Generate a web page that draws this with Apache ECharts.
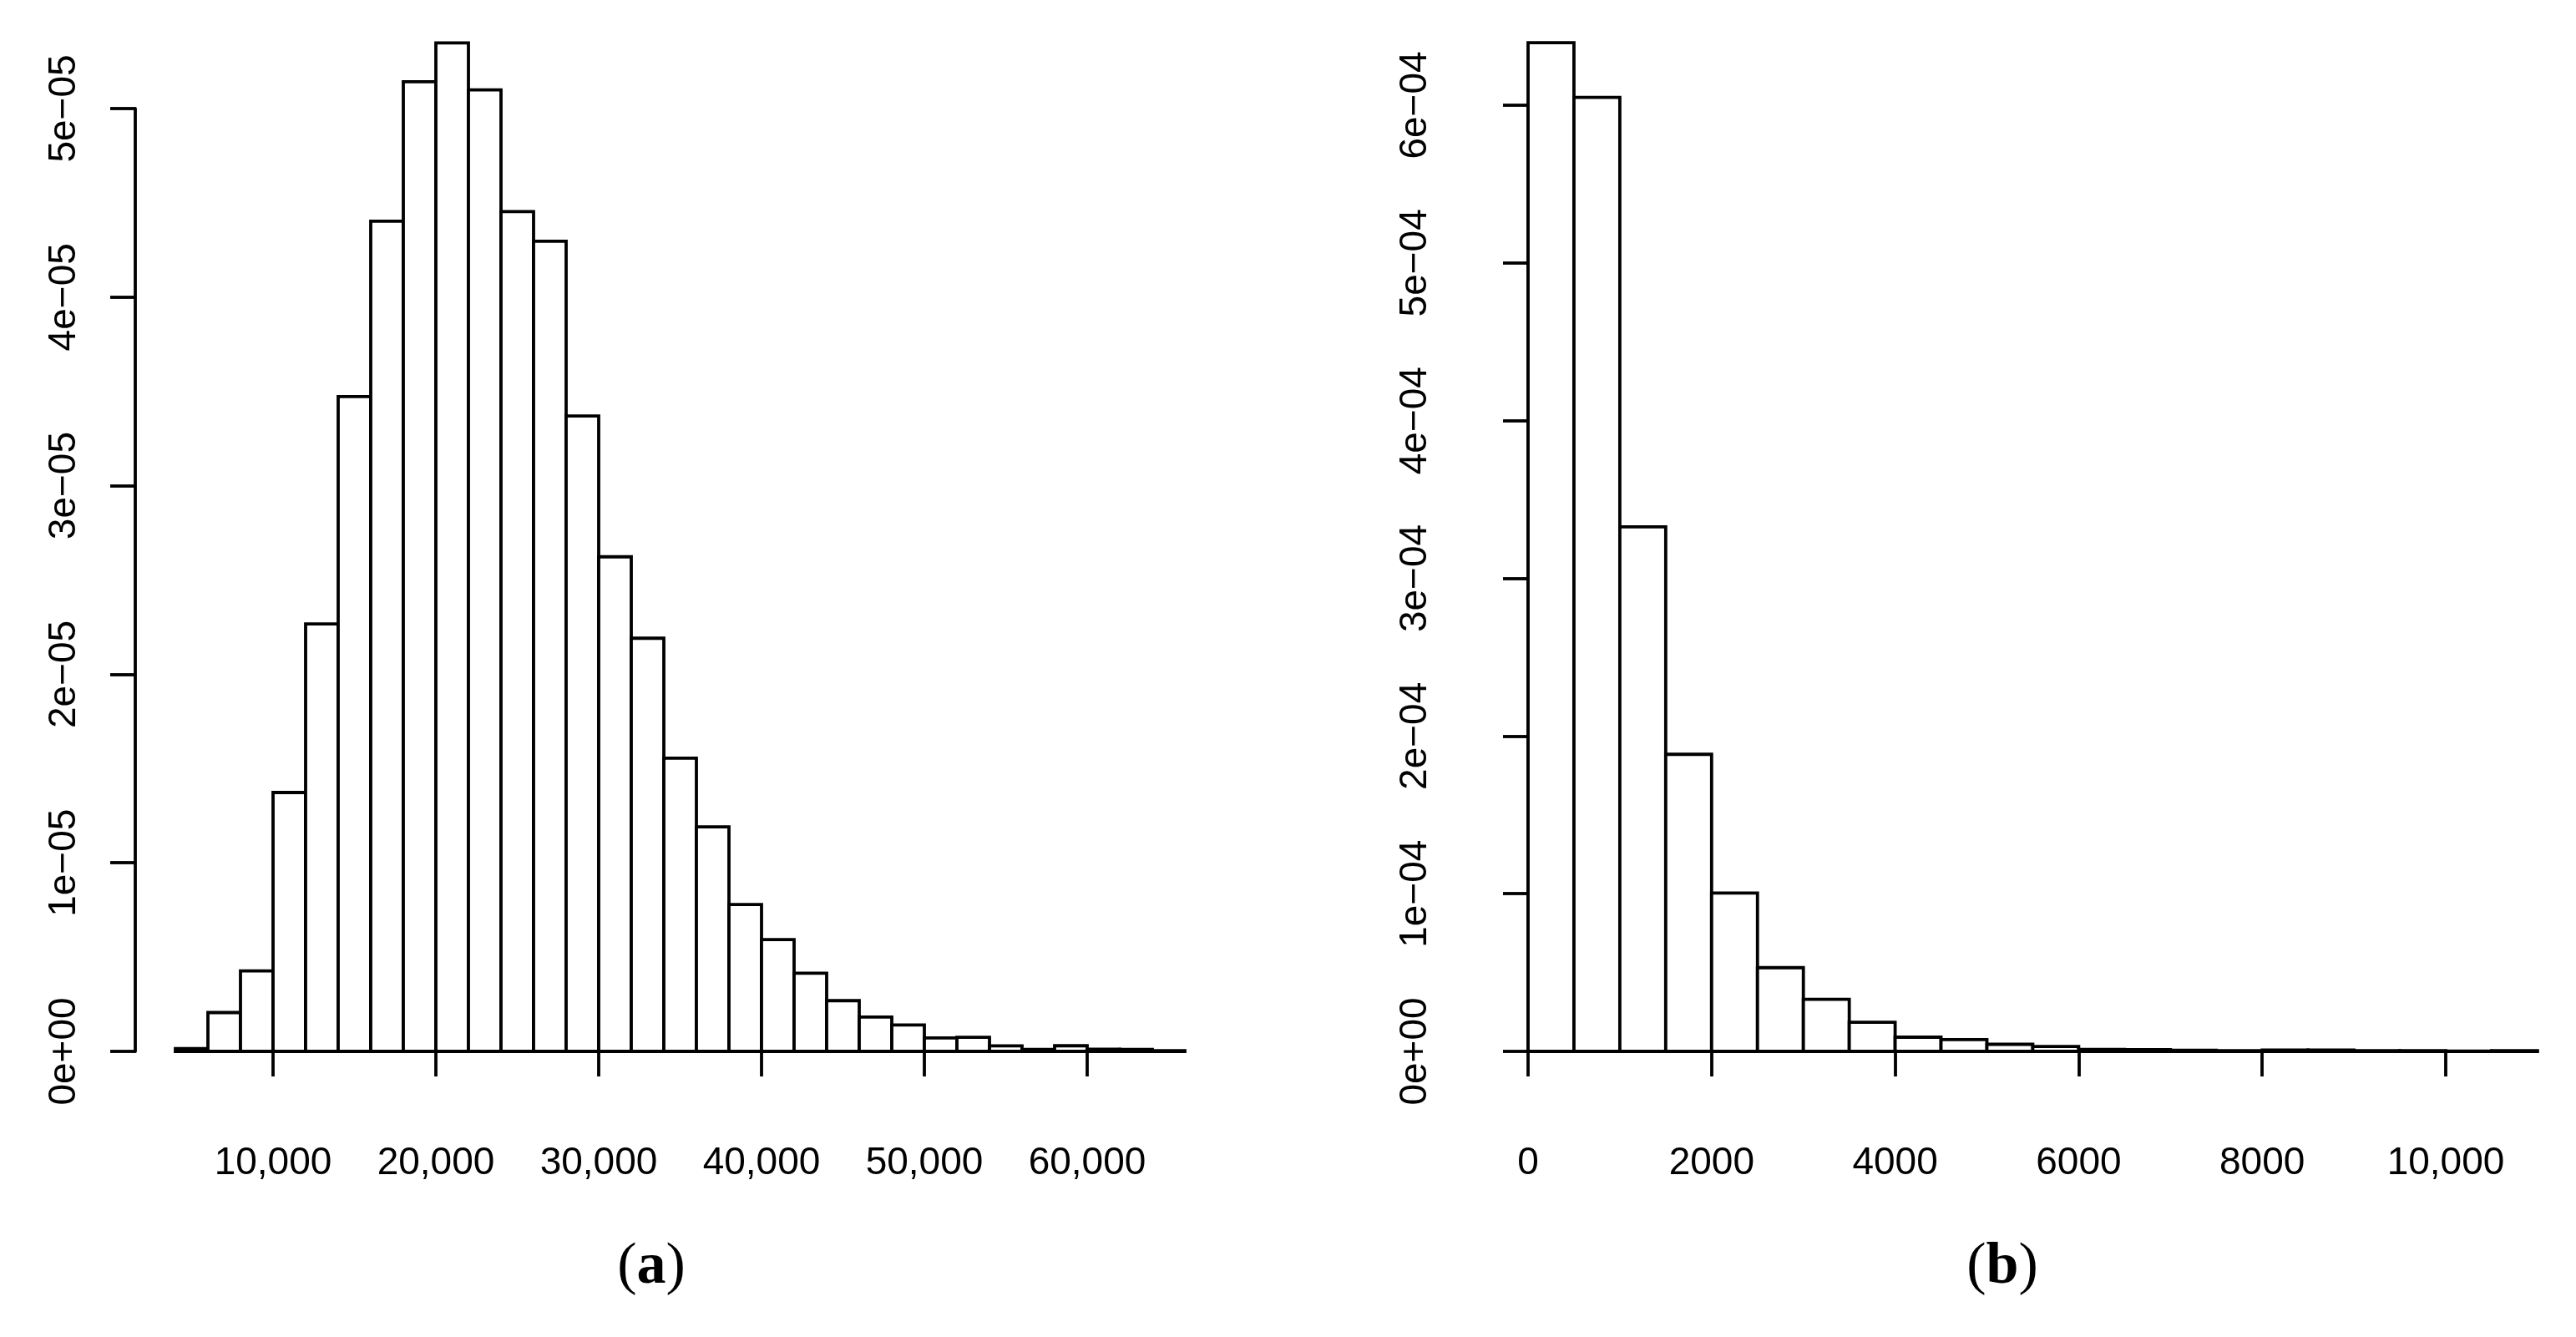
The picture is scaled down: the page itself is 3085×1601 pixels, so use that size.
<!DOCTYPE html>
<html>
<head>
<meta charset="utf-8">
<title>Histograms</title>
<script src="https://cdn.jsdelivr.net/npm/echarts@6/dist/echarts.min.js"></script>
<style>
  html, body { margin: 0; padding: 0; background: #fff; }
  #chart { width: 3085px; height: 1601px; }
</style>
</head>
<body>
<div id="chart"></div>
<script>
// panel (a): bin edges and density
const aEdges = [4000, 6000, 8000, 10000, 12000, 14000, 16000, 18000, 20000, 22000, 24000,
  26000, 28000, 30000, 32000, 34000, 36000, 38000, 40000, 42000, 44000, 46000, 48000,
  50000, 52000, 54000, 56000, 58000, 60000, 62000, 64000, 66000];
const aDensity = [0.15e-6, 2.06e-6, 4.27e-6, 13.73e-6, 22.67e-6, 34.73e-6, 44.03e-6, 51.42e-6,
  53.48e-6, 50.99e-6, 44.54e-6, 42.96e-6, 33.70e-6, 26.23e-6, 21.91e-6, 15.55e-6, 11.91e-6,
  7.79e-6, 5.93e-6, 4.15e-6, 2.69e-6, 1.82e-6, 1.40e-6, 0.71e-6, 0.75e-6, 0.29e-6, 0.10e-6,
  0.30e-6, 0.12e-6, 0.10e-6, 0.04e-6];
const aXTicks = [10000, 20000, 30000, 40000, 50000, 60000];
const aYTicks = [0, 1e-5, 2e-5, 3e-5, 4e-5, 5e-5];

// panel (b)
const bEdges = [0, 500, 1000, 1500, 2000, 2500, 3000, 3500, 4000, 4500, 5000, 5500, 6000,
  6500, 7000, 7500, 8000, 8500, 9000, 9500, 10000, 10500, 11000];
const bDensity = [6.396e-4, 6.05e-4, 3.326e-4, 1.884e-4, 1.004e-4, 0.531e-4, 0.33e-4, 0.185e-4,
  0.09e-4, 0.075e-4, 0.045e-4, 0.031e-4, 0.012e-4, 0.011e-4, 0.007e-4, 0.004e-4, 0.008e-4,
  0.008e-4, 0.005e-4, 0.005e-4, 0.002e-4, 0.005e-4];
const bXTicks = [0, 2000, 4000, 6000, 8000, 10000];
const bYTicks = [0, 1e-4, 2e-4, 3e-4, 4e-4, 5e-4, 6e-4];

const panelLabels = ['a', 'b'];

const FONT = '"Liberation Sans", Arial, Helvetica, sans-serif';
const SERIF = '"Liberation Serif", "Times New Roman", serif';
const LW = 3.8;

// R style scientific labels: 5e-05, 0e+00
function rSci(v) {
    if (Math.abs(v) < 1e-15) return '0e+00';
    const parts = v.toExponential(0).split('e');
    const n = parseInt(parts[1], 10);
    return parts[0] + 'e' + (n < 0 ? '\u2212' : '+') + String(Math.abs(n)).padStart(2, '0');
}

// 2000 stays plain, 10,000 gets a comma
function rNum(v) {
    const r = Math.round(v);
    return r >= 10000 ? r.toLocaleString('en-US') : String(r);
}

function toBins(edges, dens) {
    return dens.map((d, i) => [edges[i], edges[i + 1], d]);
}

function renderHist(params, api) {
    const top = api.coord([api.value(0), api.value(2)]);
    const bot = api.coord([api.value(1), 0]);
    return {
        type: 'rect',
        shape: { x: top[0], y: top[1], width: bot[0] - top[0], height: bot[1] - top[1] },
        style: { fill: '#fff', stroke: '#000', lineWidth: LW }
    };
}

function xAxisFor(idx, ticks, offset) {
    return {
        type: 'value',
        gridIndex: idx,
        min: ticks[0],
        max: ticks[ticks.length - 1],
        interval: ticks[1] - ticks[0],
        position: 'bottom',
        offset: offset,
        splitLine: { show: false },
        axisLine: { show: true, lineStyle: { color: '#000', width: LW } },
        axisTick: { show: true, length: 30, lineStyle: { color: '#000', width: LW } },
        axisLabel: { margin: 63, color: '#000', fontFamily: FONT, fontSize: 46, formatter: rNum }
    };
}

function yAxisFor(idx, ticks, offset) {
    return {
        type: 'value',
        gridIndex: idx,
        min: ticks[0],
        max: ticks[ticks.length - 1],
        interval: ticks[1] - ticks[0],
        position: 'left',
        offset: offset,
        splitLine: { show: false },
        axisLine: { show: true, lineStyle: { color: '#000', width: LW } },
        axisTick: { show: true, length: 30, lineStyle: { color: '#000', width: LW } },
        axisLabel: {
            rotate: 90, margin: 62, color: '#000', fontFamily: FONT, fontSize: 46,
            align: 'center', verticalAlign: 'bottom', formatter: rSci
        }
    };
}

function panelLabel(letter, cx) {
    return {
        type: 'text',
        x: cx,
        y: 1518,
        style: {
            text: '{n|(}{b|' + letter + '}{n|)}',
            align: 'center',
            verticalAlign: 'middle',
            rich: {
                n: { fontFamily: SERIF, fontSize: 70, fill: '#000' },
                b: { fontFamily: SERIF, fontSize: 70, fontWeight: 'bold', fill: '#000' }
            }
        }
    };
}

const chart = echarts.init(document.getElementById('chart'));
chart.setOption({
    animation: false,
    backgroundColor: '#fff',
    grid: [
        { left: 327, top: 130, width: 975, height: 1129 },
        { left: 1830, top: 126, width: 1099, height: 1133 }
    ],
    xAxis: [xAxisFor(0, aXTicks, 48), xAxisFor(1, bXTicks, 48)],
    yAxis: [yAxisFor(0, aYTicks, 165), yAxisFor(1, bYTicks, 50)],
    series: [
        {
            type: 'custom', xAxisIndex: 0, yAxisIndex: 0, clip: false,
            renderItem: renderHist, encode: { x: [0, 1], y: 2 },
            data: toBins(aEdges, aDensity)
        },
        {
            type: 'custom', xAxisIndex: 1, yAxisIndex: 1, clip: false,
            renderItem: renderHist, encode: { x: [0, 1], y: 2 },
            data: toBins(bEdges, bDensity)
        }
    ],
    graphic: [panelLabel(panelLabels[0], 780), panelLabel(panelLabels[1], 2398)]
});
</script>
</body>
</html>
